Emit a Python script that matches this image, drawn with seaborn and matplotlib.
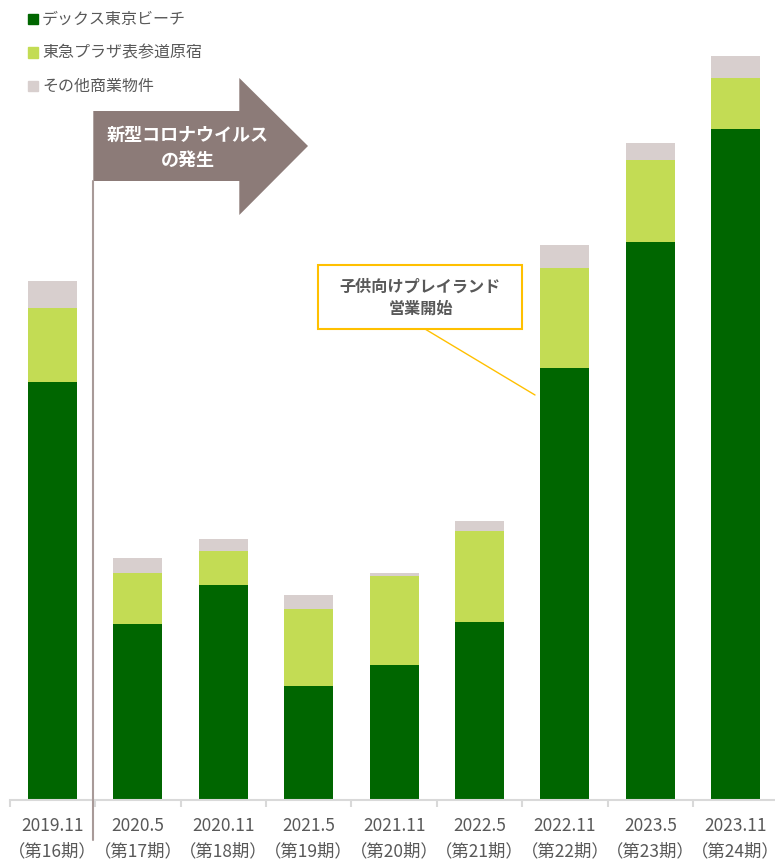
import matplotlib
matplotlib.use("Agg")
import matplotlib.pyplot as plt
import seaborn as sns
import pandas as pd
from matplotlib.patches import Rectangle, Polygon
from matplotlib.lines import Line2D

sns.set_style("white")
plt.rcParams['font.family'] = ['Noto Sans CJK JP', 'DejaVu Sans']

# ---- data ----
periods = ["2019.11", "2020.5", "2020.11", "2021.5", "2021.11",
           "2022.5", "2022.11", "2023.5", "2023.11"]
terms = ["第16期", "第17期", "第18期", "第19期", "第20期",
         "第21期", "第22期", "第23期", "第24期"]
series_names = ["デックス東京ビーチ", "東急プラザ表参道原宿", "その他商業物件"]
decks = [418, 176, 215, 114, 135, 178, 432, 558, 671]
omotesando = [74, 51, 34, 77, 89, 91, 100, 82, 51]
others = [27, 15, 12, 14, 3, 10, 23, 17, 22]

colors = ["#006600", "#c3dc54", "#d8cfce"]
text_gray = "#595959"

labels = [f"{p}\n（{t}）" for p, t in zip(periods, terms)]
df = pd.DataFrame({"label": labels, "decks": decks,
                   "omote": omotesando, "others": others})
df["lvl2"] = df["decks"] + df["omote"]
df["lvl3"] = df["lvl2"] + df["others"]

W, H = 775, 859
fig = plt.figure(figsize=(W / 100, H / 100), dpi=100)
ax = fig.add_axes([9.8 / W, 59 / H, 768.6 / W, 800 / H])

bw = 0.574
sns.barplot(data=df, x="label", y="lvl3", color=colors[2], width=bw,
            saturation=1, ax=ax, linewidth=0)
sns.barplot(data=df, x="label", y="lvl2", color=colors[1], width=bw,
            saturation=1, ax=ax, linewidth=0)
sns.barplot(data=df, x="label", y="decks", color=colors[0], width=bw,
            saturation=1, ax=ax, linewidth=0)

ax.set_xlim(-0.5, len(labels) - 0.5)
ax.set_ylim(0, 800)
ax.set_xlabel("")
ax.set_ylabel("")
ax.set_yticks([])
for s in ["top", "left", "right"]:
    ax.spines[s].set_visible(False)
ax.spines["bottom"].set_color("#d9d9d9")
ax.spines["bottom"].set_linewidth(1.5)
ax.set_xticks(range(len(labels)))
ax.set_xticklabels(labels, fontsize=12.5, color=text_gray, linespacing=1.55)
ax.set_xticks([i - 0.5 for i in range(len(labels) + 1)], minor=True)
ax.tick_params(axis="x", which="major", length=0, pad=12)
ax.tick_params(axis="x", which="minor", length=5, width=1.5,
               color="#d9d9d9", bottom=True, direction="out")


def fp(x, y):
    return (x / W, 1 - y / H)


# legend
for i, name in enumerate(series_names):
    yc = 19 + i * 33.5
    fig.add_artist(Rectangle(fp(28, yc + 5), 10 / W, 10 / H,
                             transform=fig.transFigure, color=colors[i]))
    fig.text(*fp(42, yc), name, fontsize=11.5, color=text_gray,
             va="center", ha="left")

# vertical line
fig.add_artist(Line2D([93.3 / W, 93.3 / W], [1 - 181 / H, 1 - 840 / H],
                      transform=fig.transFigure, color="#a89a98", lw=1.5))

# arrow
arrow_pts = [fp(93.3, 111), fp(239.3, 111), fp(239.3, 78), fp(308, 146),
             fp(239.3, 215), fp(239.3, 181), fp(93.3, 181)]
fig.add_artist(Polygon(arrow_pts, closed=True, transform=fig.transFigure,
                       facecolor="#8c7b78", edgecolor="none"))
fig.text(*fp(187.5, 135), "新型コロナウイルス", fontsize=13, color="white",
         fontweight="bold", ha="center", va="center")
fig.text(*fp(187.5, 160), "の発生", fontsize=13, color="white",
         fontweight="bold", ha="center", va="center")

# callout
fig.add_artist(Rectangle(fp(318.3, 329), (522.3 - 318.3) / W, (329 - 265) / H,
                         transform=fig.transFigure, facecolor="white",
                         edgecolor="#ffc000", lw=1.5))
fig.text(*fp(420.5, 286.7), "子供向けプレイランド", fontsize=11.6,
         color=text_gray, fontweight="bold", ha="center", va="center")
fig.text(*fp(420.5, 308.3), "営業開始", fontsize=11.6,
         color=text_gray, fontweight="bold", ha="center", va="center")
fig.add_artist(Line2D([425 / W, 535 / W], [1 - 329 / H, 1 - 395 / H],
                      transform=fig.transFigure, color="#ffc000", lw=1))

fig.savefig("out.png", dpi=100)
